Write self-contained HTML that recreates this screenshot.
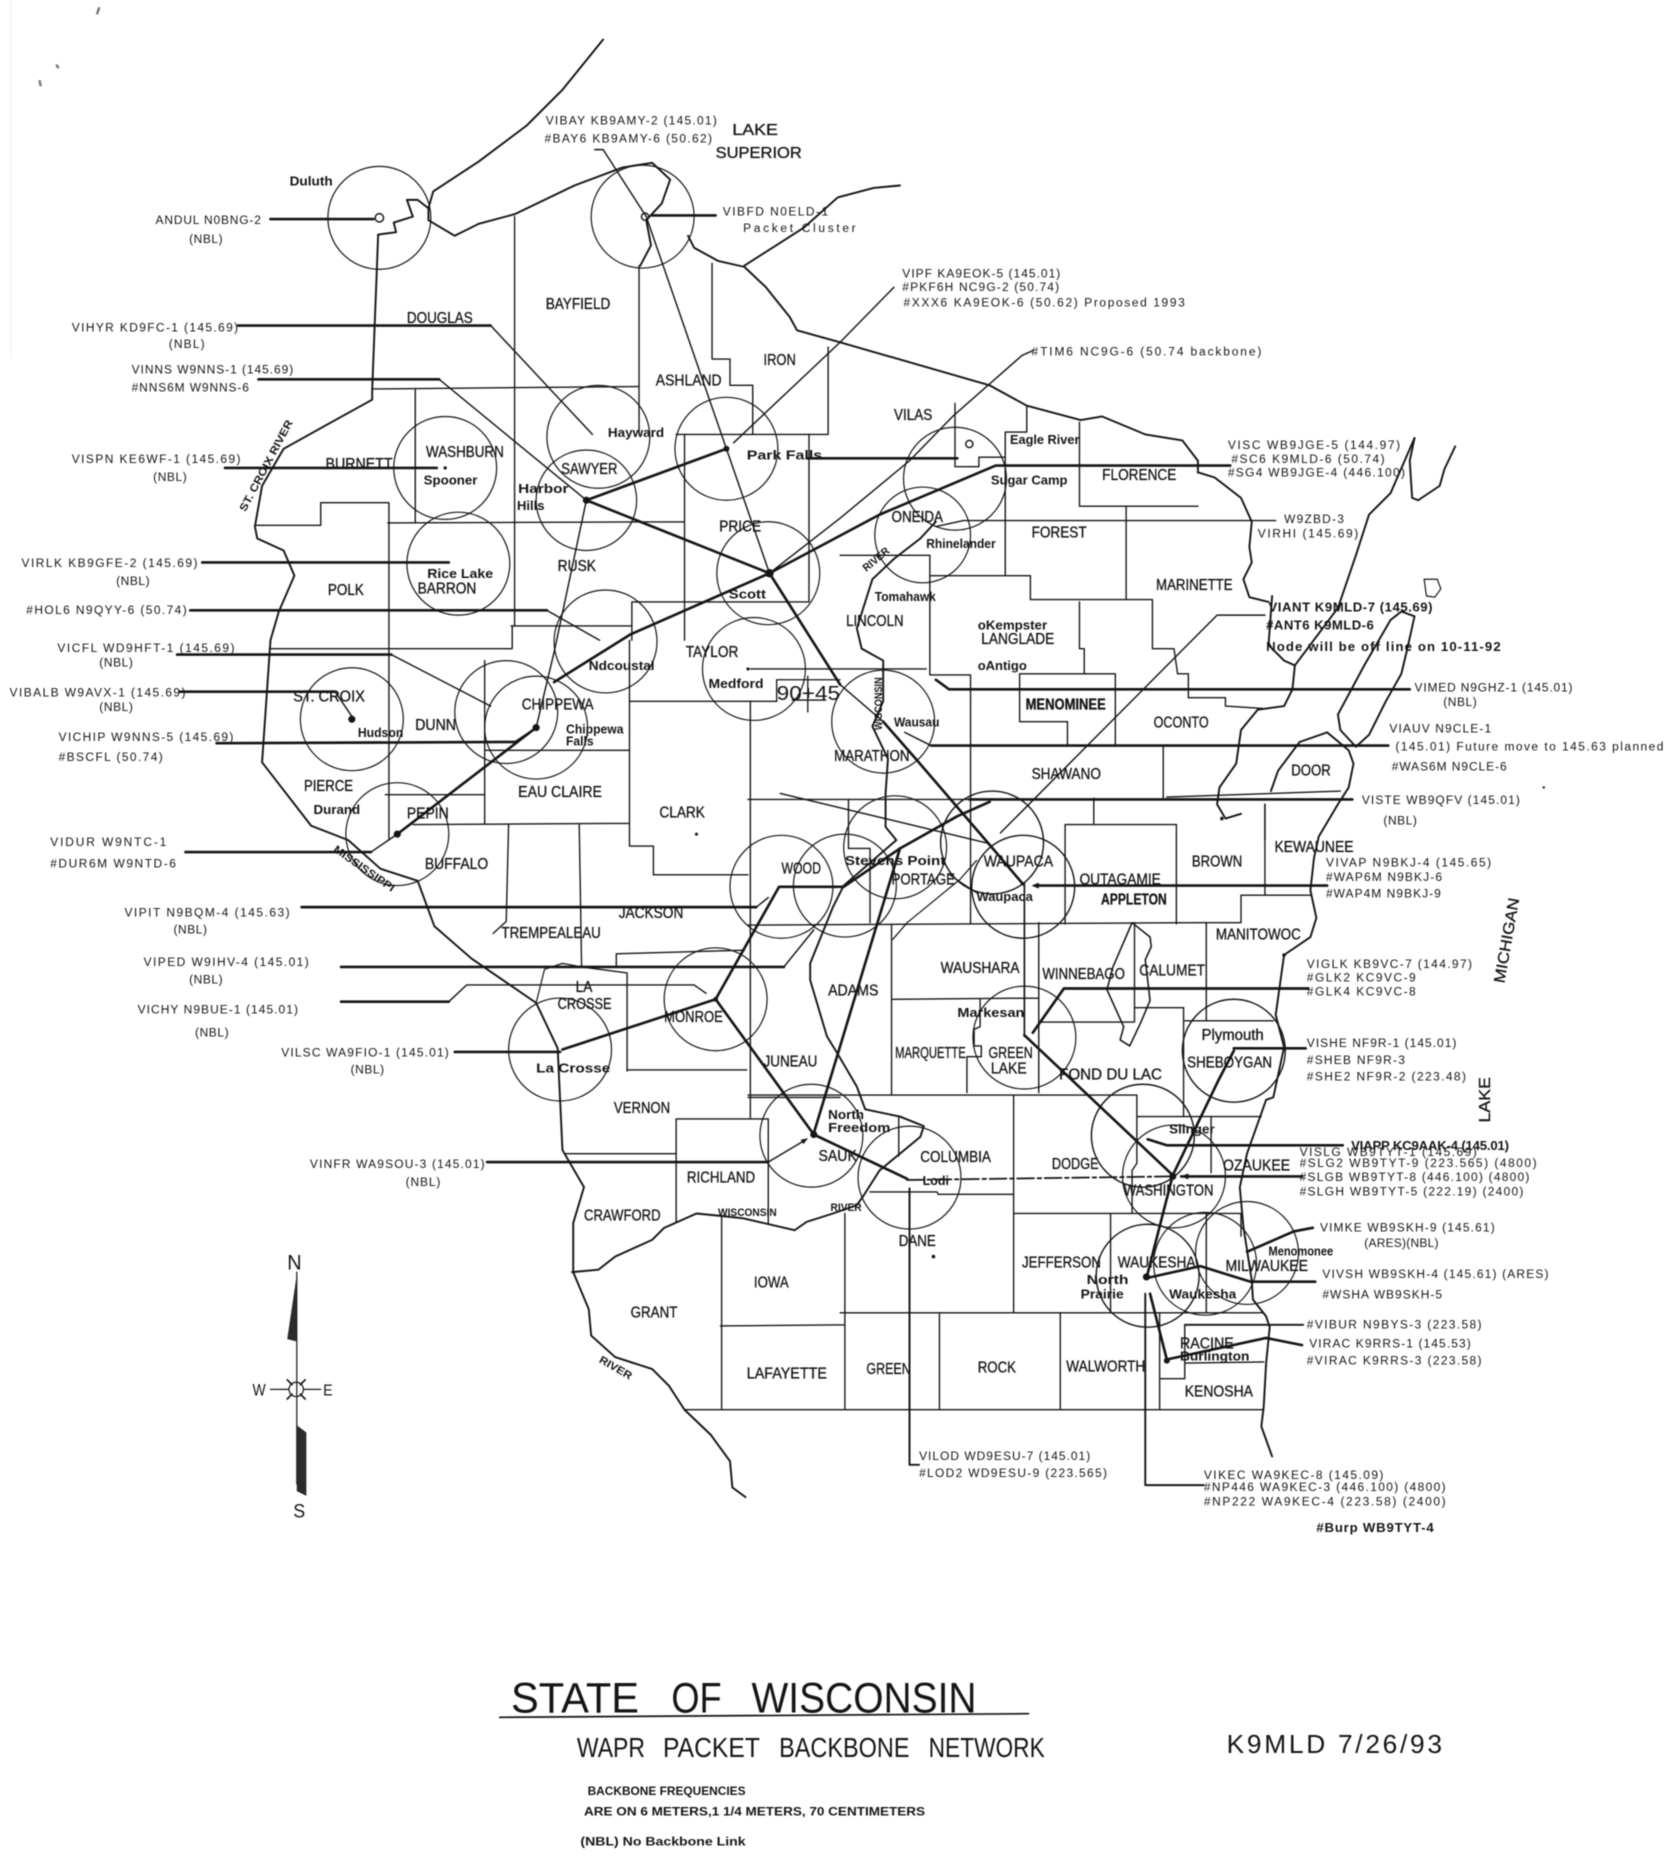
<!DOCTYPE html>
<html><head><meta charset="utf-8"><title>State of Wisconsin WAPR Packet Backbone Network</title>
<style>
html,body{margin:0;padding:0;background:#fff;width:1679px;height:1876px;overflow:hidden}
svg{display:block;filter:blur(.45px)}
text{font-family:"Liberation Sans",sans-serif;fill:#151515}
.s text{font-size:10px}
.c text{font-size:13px;stroke:#151515;stroke-width:.25}
.w text{font-size:10.5px;font-weight:bold}
.n{fill:none;stroke:#151515;stroke-linecap:round;stroke-linejoin:round}
</style></head><body>
<svg xmlns="http://www.w3.org/2000/svg" width="1679" height="1876" viewBox="0 0 1403 1567.6">
<rect width="1403" height="1567.6" fill="#fff"/>
<path d="M9 0V300" stroke="#f1f1f1" stroke-width="1" fill="none"/>
<path d="M83 6l-2 6M33 67l1 5M47 54l2 3" stroke="#777" stroke-width="2" fill="none"/>

<!-- shorelines / rivers -->
<g class="n" stroke-width="1.6">
<path d="M504 33L470 75L440 105L400 135L362 160L358 174"/>
<path d="M316 196L331 194L329 186L345 181L340 167L349 167L358 174L358 184L380 197L400 187L430 179L480 155L520 140L545 136L560 150L553 170L540 184L544 205L535 222"/>
<path d="M575 197L580 207L600 218L622 223L640 240L660 265L666 276L702 286L827 322L858 339L903 351L921 348L957 363L988 368L1001 385L1001 395"/>
<path d="M622 222L672 190L700 165L730 157L752 155"/>
<path d="M1002 395L1015 399L1037 416L1046 436L1044 457L1046 470L1039 484L1044 499L1060 503"/>
<path d="M1063 498L1060 539L1073 552L1082 556L1080 576L1073 590L1051 593L1037 610L1033 638L1019 658L1017 672L1024 684L1037 680"/>
<path d="M1182 366L1162 412L1144 430L1133 464L1118 508L1082 556"/>
<path d="M1182 366L1178 385L1180 416L1185 418L1203 406L1207 392L1216 373"/>
<path d="M1190 484L1201 484L1204 492L1199 499L1192 498Z" stroke-width="1"/>
<path d="M1171 511L1182 515L1176 542L1171 563L1158 586L1144 614L1133 624L1120 610L1118 597L1140 556L1162 518Z"/>
<path d="M1109 612L1127 627L1131 638L1127 658L1118 672L1102 699L1098 717L1095 744L1100 767L1095 783L1073 798L1066 848L1073 875L1064 917L1058 919L1042 964L1036 992L1039 1025L1046 1070L1047 1086L1058 1100L1061 1109L1058 1139L1056 1175L1054 1192L1063 1217"/>
<path d="M1109 612L1086 620L1068 644L1062 661"/>
<path d="M316 196L311 326L311 334L273 355L237 375L219 406L213 440L215 450L237 460L246 481L233 511L226 535L219 637L260 690L291 702L318 726L349 736L363 774L394 801L448 838L466 876L470 961L488 992L479 1022L479 1063L492 1094L494 1116L514 1134L545 1144L559 1158L572 1178L594 1199L610 1221L612 1243L623 1251"/>
<path d="M478 1063L500 1061L514 1050L545 1036L555 1026L582 1014L602 1016L621 1018L664 1028L674 1021L696 1014L716 1007L721 1000L735 978L769 950L772 941L752 933L723 927L716 908L699 879L691 866L677 819L677 805L696 758L705 740L749 702L740 691L740 663L742 634L729 607L738 586L738 552L720 542L716 525L729 484L747 467L769 450L782 436"/>
<path d="M448 838L455 810L470 805L486 808" stroke-width="1"/>
<path d="M946 771L961 783L962 791L957 802L961 836L953 855L944 874L936 869L939 858L925 827L930 808Z" stroke-width="1.3"/>
<path d="M746 785L758 771L802 735L816 719M792 730L816 746" stroke-width="1"/>
</g>

<!-- county lines -->
<g class="n" stroke-width="1.15">
<path d="M430 181V523M311 325L534 323M347 325V437M534 222V363M595 220V300H610V322H629V363M692 290V363M565 363H692"/>
<path d="M572 363V535M324 437L572 436M213 439H268V420H325V702M676 363V503M528 503H676M528 503V535M427 523H528"/>
<path d="M226 542H428V523M526 535V707H546V731H625M526 586H649M627 586V934M405 552V688M405 627H526M322 664H405M345 689L526 688"/>
<path d="M425 689L423 770L412 780M484 689L486 808L524 813V895M515 808V797L622 794M524 894H624M625 917H702M472 964H565"/>
<path d="M565 935H642V1022M565 935V1021M603 1016V1177M602 1108L706 1107M706 1014V1177M572 1178H1056M702 1097H1055"/>
<path d="M785 1097V1177M886 1097V1177M969 1097V1177M969 1152H990V1107M990 1139L1056 1138M847 915V1097M625 915H950V972L946 978V1014M950 933H1054M847 1014H1037V1033M928 1014V1097M1008 1014V1097M1012 933V980M989 842V933"/>
<path d="M745 773V915M746 835L868 834M868 771V913M819 835V858L814 860V874H820V883H808V913M625 773L1003 771H1037V748H1095M811 585V772M983 689V772M1057 672V748M1008 772V853M868 854H948V771M948 842H989M990 853H1064"/>
<path d="M902 353V423H1001M941 423V501M858 339V361H840V481M798 337V390H818V382H840M777 464V564H811V585M702 464H777M777 481H861V501H963V542H981L984 563H993V583H1024V590L1055 592"/>
<path d="M902 503V542H906V563M852 563H932M852 563V603H892V622M932 563V622M972 624V668M914 667V688M890 689H983M890 689V772M975 666L1120 661M1057 672V702M625 668H914M702 559H774M627 559H702"/>
<path d="M709 668V709H727V771M727 996H783L784 998H847M751 933V966"/>
<path d="M649 568H702M649 568V586M675 565V595M662 585H690" stroke-width="1.1"/>
</g>

<!-- coverage circles -->
<g class="n" stroke-width="1">
<circle cx="317" cy="182" r="43"/><circle cx="537" cy="181" r="43"/><circle cx="500" cy="365" r="43"/><circle cx="490" cy="418" r="42"/>
<circle cx="372" cy="391" r="43"/><circle cx="383" cy="471" r="43"/><circle cx="607" cy="375" r="43"/><circle cx="642" cy="479" r="43"/>
<circle cx="506" cy="536" r="43"/><circle cx="630" cy="559" r="43"/><circle cx="423" cy="595" r="43"/><circle cx="448" cy="608" r="43"/>
<circle cx="294" cy="601" r="43"/><circle cx="332" cy="697" r="43"/><circle cx="653" cy="741" r="43"/><circle cx="706" cy="740" r="43"/>
<circle cx="748" cy="708" r="43"/><circle cx="829" cy="704" r="43" stroke-width="1.2"/><circle cx="855" cy="741" r="43" stroke-width="1.2"/>
<circle cx="738" cy="603" r="43"/><circle cx="771" cy="447" r="40"/><circle cx="798" cy="400" r="43"/>
<circle cx="598" cy="835" r="43"/><circle cx="468" cy="877" r="43"/><circle cx="678" cy="949" r="43"/><circle cx="760" cy="984" r="43"/>
<circle cx="1031" cy="878" r="43" stroke-width="1.2"/><circle cx="856" cy="867" r="43"/><circle cx="955" cy="949" r="43" stroke-width="1.2"/><circle cx="981" cy="983" r="43"/>
<circle cx="959" cy="1066" r="43" stroke-width="1.2"/><circle cx="1007" cy="1056" r="43"/><circle cx="1042" cy="1047" r="43"/>
</g>

<!-- backbone links -->
<g class="n" stroke-width="1.2">
<path d="M497 125H504L540 181L607 375L643 479L702 572L738 603"/>
<path d="M747 240L702 286L613 370"/>
<path d="M863 293L854 297L796 348L760 385L702 433L643 479"/>
<path d="M490 418L463 545L448 608"/>
<path d="M1057 514H1017L836 696"/>
<path d="M410 272L495 363M367 317L490 418M327 547L410 590M280 578L295 600M457 510L501 535"/>
<path d="M655 808L680 777M375 837L390 823H580L590 830M642 971L674 952M310 712L332 697M632 758L642 750M430 620L448 608"/>
<path d="M782 440L805 435H1066M756 612L778 623M652 663L827 705"/>
<path d="M856 738V866" stroke-width="1.4"/>
</g>
<g class="n" stroke-width="2.2">
<path d="M607 375L490 418L643 479"/>
<path d="M643 479L735 430L832 389H1028"/>
<path d="M643 479L527 530L463 570"/>
<path d="M448 608L332 697"/>
<path d="M643 479L702 572"/>
<path d="M738 603L766 635L827 706L855 739"/>
<path d="M470 877L598 835L651 741H705L752 709L800 682L827 670"/>
<path d="M752 709L680 947"/>
<path d="M598 835L680 948L758 985"/>
<path d="M856 865L980 982L1018 903L1031 878"/>
<path d="M980 982L958 1068L1003 1058L1045 1071H1099"/>
<path d="M961 1081L975 1136L1058 1118L1088 1124"/>
<path d="M1042 1046L1081 1029L1097 1026"/>
<path d="M863 863L889 826H1093M1031 876H1091M959 952L975 957H1122M987 983H1088M865 740H1109"/>
<path d="M226 183H312M545 180H598M199 272H410M216 317H367M188 391H365M169 470H375M159 510H457M148 547H327M150 578H280M181 621L430 620M155 712H310M252 758H632M285 808H655M285 837H375M380 879H468M407 971H642"/>
<path d="M778 623H1160M782 568L793 576H1178M810 668H1130M675 383H800"/>
<path d="M957 1081V1241H1006M990 1107H1089M760 993V1224H768" stroke-width="1.6"/>
<path d="M758 986L980 983" stroke-dasharray="14 3 3 3" stroke-width="1.5"/>
</g>
<g fill="#151515">
<circle cx="490" cy="418" r="3"/><circle cx="643" cy="479" r="3.5"/><circle cx="607" cy="375" r="2.5"/><circle cx="448" cy="608" r="3"/><circle cx="332" cy="697" r="3"/>
<circle cx="294" cy="601" r="3"/><circle cx="680" cy="948" r="3"/><circle cx="598" cy="835" r="2"/><circle cx="980" cy="983" r="3"/><circle cx="958" cy="1067" r="3"/><circle cx="975" cy="1137" r="2.5"/>
<circle cx="582" cy="697" r="1.3"/><circle cx="780" cy="1050" r="1.5"/><circle cx="1073" cy="798" r="1.5"/><circle cx="1290" cy="658" r="1"/><circle cx="1021" cy="684" r="1.5"/><circle cx="625" cy="559" r="1.3"/><circle cx="372" cy="391" r="1.4"/>
<path d="M862 740l6-2.5v5ZM675 951l-6 1.5 2.5 3.5ZM987 983l6-2.5v5Z"/>
</g>
<g class="n" stroke-width="1.2"><circle cx="317" cy="182" r="3.5"/><circle cx="539" cy="181" r="3"/><circle cx="810" cy="371" r="3"/></g>

<!-- compass -->
<g class="n" stroke-width="1"><path d="M248 1063V1240M226 1161H241M254 1161H268"/><circle cx="247.5" cy="1161" r="6"/><path d="M240 1153l4 4M255 1153l-4 4M240 1169l4-4M255 1169l-4-4" stroke-width="1.4"/></g>
<path d="M248 1065L240 1119L248 1121Z M248 1191L256 1197V1250L248 1246Z" fill="#2b2b2b"/>
<text x="240" y="1061" font-size="18" textLength="12" lengthAdjust="spacingAndGlyphs">N</text>
<text x="245" y="1268" font-size="16" textLength="10" lengthAdjust="spacingAndGlyphs">S</text>
<text x="211" y="1166" font-size="14" textLength="11" lengthAdjust="spacingAndGlyphs">W</text>
<text x="270" y="1166" font-size="13" textLength="8" lengthAdjust="spacingAndGlyphs">E</text>

<!-- station labels -->
<g class="s">
<text x="456" y="104" textLength="143">VIBAY KB9AMY-2 (145.01)</text>
<text x="455" y="119" textLength="140">#BAY6 KB9AMY-6 (50.62)</text>
<text x="130" y="187" textLength="88">ANDUL N0BNG-2</text>
<text x="158" y="203" textLength="28">(NBL)</text>
<text x="604" y="180" textLength="88">VIBFD N0ELD-1</text>
<text x="621" y="194" textLength="94">Packet Cluster</text>
<text x="754" y="232" textLength="132">VIPF KA9EOK-5 (145.01)</text>
<text x="754" y="243" textLength="131">#PKF6H NC9G-2 (50.74)</text>
<text x="755" y="256" textLength="235">#XXX6 KA9EOK-6 (50.62) Proposed 1993</text>
<text x="862" y="297" textLength="192">#TIM6 NC9G-6  (50.74 backbone)</text>
<text x="60" y="277" textLength="139">VIHYR KD9FC-1 (145.69)</text>
<text x="141" y="291" textLength="30">(NBL)</text>
<text x="110" y="312" textLength="135">VINNS W9NNS-1 (145.69)</text>
<text x="110" y="327" textLength="98">#NNS6M W9NNS-6</text>
<text x="60" y="387" textLength="141">VISPN KE6WF-1 (145.69)</text>
<text x="128" y="402" textLength="28">(NBL)</text>
<text x="18" y="474" textLength="147">VIRLK KB9GFE-2 (145.69)</text>
<text x="97" y="489" textLength="28">(NBL)</text>
<text x="22" y="513" textLength="134">#HOL6 N9QYY-6 (50.74)</text>
<text x="48" y="545" textLength="148">VICFL WD9HFT-1 (145.69)</text>
<text x="83" y="557" textLength="28">(NBL)</text>
<text x="8" y="582" textLength="147">VIBALB W9AVX-1 (145.69)</text>
<text x="83" y="594" textLength="28">(NBL)</text>
<text x="49" y="619" textLength="146">VICHIP W9NNS-5 (145.69)</text>
<text x="49" y="636" textLength="87">#BSCFL (50.74)</text>
<text x="42" y="707" textLength="97">VIDUR W9NTC-1</text>
<text x="42" y="725" textLength="105">#DUR6M W9NTD-6</text>
<text x="104" y="766" textLength="138">VIPIT N9BQM-4 (145.63)</text>
<text x="145" y="780" textLength="28">(NBL)</text>
<text x="120" y="807" textLength="138">VIPED W9IHV-4 (145.01)</text>
<text x="158" y="822" textLength="28">(NBL)</text>
<text x="115" y="847" textLength="134">VICHY N9BUE-1 (145.01)</text>
<text x="163" y="866" textLength="28">(NBL)</text>
<text x="235" y="883" textLength="140">VILSC WA9FIO-1 (145.01)</text>
<text x="293" y="897" textLength="28">(NBL)</text>
<text x="259" y="976" textLength="146">VINFR WA9SOU-3 (145.01)</text>
<text x="339" y="991" textLength="29">(NBL)</text>
<text x="1026" y="375" textLength="144">VISC WB9JGE-5 (144.97)</text>
<text x="1029" y="387" textLength="128">#SC6 K9MLD-6 (50.74)</text>
<text x="1026" y="398" textLength="148">#SG4 WB9JGE-4 (446.100)</text>
<text x="1073" y="437" textLength="50">W9ZBD-3</text>
<text x="1051" y="449" textLength="84">VIRHI (145.69)</text>
<text x="1182" y="578" textLength="132">VIMED N9GHZ-1 (145.01)</text>
<text x="1206" y="590" textLength="28">(NBL)</text>
<text x="1161" y="612" textLength="85">VIAUV N9CLE-1</text>
<text x="1166" y="627" textLength="224">(145.01) Future move to 145.63 planned</text>
<text x="1163" y="644" textLength="96">#WAS6M N9CLE-6</text>
<text x="1138" y="672" textLength="132">VISTE WB9QFV (145.01)</text>
<text x="1156" y="689" textLength="28">(NBL)</text>
<text x="1108" y="724" textLength="138">VIVAP N9BKJ-4 (145.65)</text>
<text x="1108" y="736" textLength="97">#WAP6M N9BKJ-6</text>
<text x="1108" y="750" textLength="96">#WAP4M N9BKJ-9</text>
<text x="1092" y="809" textLength="138">VIGLK KB9VC-7 (144.97)</text>
<text x="1092" y="820" textLength="91">#GLK2 KC9VC-9</text>
<text x="1092" y="832" textLength="91">#GLK4 KC9VC-8</text>
<text x="1092" y="875" textLength="125">VISHE NF9R-1 (145.01)</text>
<text x="1092" y="889" textLength="82">#SHEB NF9R-3</text>
<text x="1092" y="903" textLength="133">#SHE2 NF9R-2 (223.48)</text>
<text x="1086" y="966" textLength="148">VISLG WB9TYT-1 (145.69)</text>
<text x="1086" y="975" textLength="198">#SLG2 WB9TYT-9 (223.565) (4800)</text>
<text x="1086" y="987" textLength="192">#SLGB WB9TYT-8 (446.100) (4800)</text>
<text x="1086" y="999" textLength="187">#SLGH WB9TYT-5 (222.19) (2400)</text>
<text x="1103" y="1029" textLength="146">VIMKE WB9SKH-9 (145.61)</text>
<text x="1140" y="1042" textLength="62">(ARES)(NBL)</text>
<text x="1105" y="1068" textLength="189">VIVSH WB9SKH-4 (145.61) (ARES)</text>
<text x="1105" y="1085" textLength="100">#WSHA WB9SKH-5</text>
<text x="1092" y="1110" textLength="146">#VIBUR N9BYS-3 (223.58)</text>
<text x="1094" y="1126" textLength="135">VIRAC K9RRS-1 (145.53)</text>
<text x="1092" y="1140" textLength="146">#VIRAC K9RRS-3 (223.58)</text>
<text x="768" y="1220" textLength="143">VILOD WD9ESU-7 (145.01)</text>
<text x="768" y="1234" textLength="157">#LOD2 WD9ESU-9 (223.565)</text>
<text x="1006" y="1236" textLength="150">VIKEC WA9KEC-8 (145.09)</text>
<text x="1006" y="1246" textLength="202">#NP446 WA9KEC-3 (446.100) (4800)</text>
<text x="1006" y="1258" textLength="202">#NP222 WA9KEC-4 (223.58) (2400)</text>
</g>
<g font-weight="bold" font-size="11">
<text x="1060" y="511" textLength="137">VIANT K9MLD-7 (145.69)</text>
<text x="1058" y="526" textLength="90">#ANT6 K9MLD-6</text>
<text x="1058" y="544" textLength="196">Node will be off line on 10-11-92</text>
<text x="1129" y="961" textLength="132">VIAPP KC9AAK-4 (145.01)</text>
<text x="1100" y="1280" textLength="98">#Burp WB9TYT-4</text>
</g>

<!-- counties -->
<g class="c">
<text x="612" y="113" font-size="15" textLength="38" lengthAdjust="spacingAndGlyphs">LAKE</text><text x="598" y="132" font-size="15" textLength="72" lengthAdjust="spacingAndGlyphs">SUPERIOR</text>
<text x="456" y="258" textLength="54" lengthAdjust="spacingAndGlyphs">BAYFIELD</text><text x="340" y="270" textLength="55" lengthAdjust="spacingAndGlyphs">DOUGLAS</text><text x="548" y="322" textLength="55" lengthAdjust="spacingAndGlyphs">ASHLAND</text><text x="638" y="305" textLength="27" lengthAdjust="spacingAndGlyphs">IRON</text><text x="747" y="351" textLength="32" lengthAdjust="spacingAndGlyphs">VILAS</text>
<text x="272" y="392" textLength="56" lengthAdjust="spacingAndGlyphs">BURNETT</text><text x="356" y="382" textLength="65" lengthAdjust="spacingAndGlyphs">WASHBURN</text><text x="469" y="396" textLength="47" lengthAdjust="spacingAndGlyphs">SAWYER</text><text x="601" y="444" textLength="35" lengthAdjust="spacingAndGlyphs">PRICE</text><text x="745" y="436" textLength="43" lengthAdjust="spacingAndGlyphs">ONEIDA</text><text x="862" y="449" textLength="46" lengthAdjust="spacingAndGlyphs">FOREST</text><text x="921" y="401" textLength="62" lengthAdjust="spacingAndGlyphs">FLORENCE</text>
<text x="274" y="497" textLength="30" lengthAdjust="spacingAndGlyphs">POLK</text><text x="349" y="496" textLength="49" lengthAdjust="spacingAndGlyphs">BARRON</text><text x="466" y="477" textLength="32" lengthAdjust="spacingAndGlyphs">RUSK</text><text x="707" y="523" textLength="48" lengthAdjust="spacingAndGlyphs">LINCOLN</text><text x="573" y="549" textLength="44" lengthAdjust="spacingAndGlyphs">TAYLOR</text><text x="820" y="538" textLength="61" lengthAdjust="spacingAndGlyphs">LANGLADE</text><text x="966" y="493" textLength="64" lengthAdjust="spacingAndGlyphs">MARINETTE</text>
<text x="245" y="586" textLength="60" lengthAdjust="spacingAndGlyphs">ST. CROIX</text><text x="347" y="610" textLength="34" lengthAdjust="spacingAndGlyphs">DUNN</text><text x="436" y="593" textLength="60" lengthAdjust="spacingAndGlyphs">CHIPPEWA</text><text x="433" y="666" textLength="70" lengthAdjust="spacingAndGlyphs">EAU CLAIRE</text><text x="254" y="661" textLength="41" lengthAdjust="spacingAndGlyphs">PIERCE</text><text x="340" y="684" textLength="35" lengthAdjust="spacingAndGlyphs">PEPIN</text><text x="355" y="726" textLength="53" lengthAdjust="spacingAndGlyphs">BUFFALO</text><text x="551" y="683" textLength="38" lengthAdjust="spacingAndGlyphs">CLARK</text><text x="653" y="730" textLength="33" lengthAdjust="spacingAndGlyphs">WOOD</text>
<text x="697" y="636" textLength="63" lengthAdjust="spacingAndGlyphs">MARATHON</text><text x="857" y="593" textLength="67" lengthAdjust="spacingAndGlyphs" font-weight="bold">MENOMINEE</text><text x="964" y="608" textLength="46" lengthAdjust="spacingAndGlyphs">OCONTO</text><text x="862" y="651" textLength="58" lengthAdjust="spacingAndGlyphs">SHAWANO</text><text x="1079" y="648" textLength="33" lengthAdjust="spacingAndGlyphs">DOOR</text><text x="1065" y="712" textLength="66" lengthAdjust="spacingAndGlyphs">KEWAUNEE</text><text x="996" y="724" textLength="42" lengthAdjust="spacingAndGlyphs">BROWN</text><text x="902" y="739" textLength="68" lengthAdjust="spacingAndGlyphs">OUTAGAMIE</text><text x="920" y="756" textLength="55" lengthAdjust="spacingAndGlyphs" font-size="11" font-weight="bold">APPLETON</text>
<text x="822" y="724" textLength="58" lengthAdjust="spacingAndGlyphs">WAUPACA</text><text x="745" y="739" textLength="53" lengthAdjust="spacingAndGlyphs">PORTAGE</text><text x="517" y="767" textLength="54" lengthAdjust="spacingAndGlyphs">JACKSON</text><text x="419" y="784" textLength="83" lengthAdjust="spacingAndGlyphs">TREMPEALEAU</text><text x="481" y="829" textLength="14" lengthAdjust="spacingAndGlyphs">LA</text><text x="466" y="843" textLength="45" lengthAdjust="spacingAndGlyphs">CROSSE</text><text x="555" y="854" textLength="49" lengthAdjust="spacingAndGlyphs">MONROE</text><text x="638" y="891" textLength="45" lengthAdjust="spacingAndGlyphs">JUNEAU</text><text x="692" y="832" textLength="42" lengthAdjust="spacingAndGlyphs">ADAMS</text>
<text x="786" y="813" textLength="66" lengthAdjust="spacingAndGlyphs">WAUSHARA</text><text x="871" y="818" textLength="69" lengthAdjust="spacingAndGlyphs">WINNEBAGO</text><text x="952" y="815" textLength="55" lengthAdjust="spacingAndGlyphs">CALUMET</text><text x="1016" y="785" textLength="71" lengthAdjust="spacingAndGlyphs">MANITOWOC</text><text x="748" y="884" textLength="59" lengthAdjust="spacingAndGlyphs">MARQUETTE</text><text x="826" y="884" textLength="37" lengthAdjust="spacingAndGlyphs">GREEN</text><text x="828" y="897" textLength="30" lengthAdjust="spacingAndGlyphs">LAKE</text><text x="885" y="902" textLength="86" lengthAdjust="spacingAndGlyphs">FOND DU LAC</text><text x="992" y="892" textLength="71" lengthAdjust="spacingAndGlyphs">SHEBOYGAN</text><text x="1004" y="869" textLength="52" lengthAdjust="spacingAndGlyphs" font-size="11">Plymouth</text>
<text x="513" y="930" textLength="47" lengthAdjust="spacingAndGlyphs">VERNON</text><text x="684" y="970" textLength="32" lengthAdjust="spacingAndGlyphs">SAUK</text><text x="769" y="971" textLength="59" lengthAdjust="spacingAndGlyphs">COLUMBIA</text><text x="879" y="977" textLength="39" lengthAdjust="spacingAndGlyphs">DODGE</text><text x="939" y="999" textLength="75" lengthAdjust="spacingAndGlyphs">WASHINGTON</text><text x="1022" y="978" textLength="56" lengthAdjust="spacingAndGlyphs">OZAUKEE</text><text x="574" y="988" textLength="57" lengthAdjust="spacingAndGlyphs">RICHLAND</text><text x="488" y="1020" textLength="64" lengthAdjust="spacingAndGlyphs">CRAWFORD</text><text x="751" y="1041" textLength="31" lengthAdjust="spacingAndGlyphs">DANE</text>
<text x="854" y="1059" textLength="66" lengthAdjust="spacingAndGlyphs">JEFFERSON</text><text x="934" y="1059" textLength="65" lengthAdjust="spacingAndGlyphs">WAUKESHA</text><text x="1024" y="1062" textLength="69" lengthAdjust="spacingAndGlyphs">MILWAUKEE</text><text x="630" y="1076" textLength="29" lengthAdjust="spacingAndGlyphs">IOWA</text><text x="527" y="1101" textLength="39" lengthAdjust="spacingAndGlyphs">GRANT</text><text x="624" y="1152" textLength="67" lengthAdjust="spacingAndGlyphs">LAFAYETTE</text><text x="724" y="1148" textLength="37" lengthAdjust="spacingAndGlyphs">GREEN</text><text x="817" y="1147" textLength="32" lengthAdjust="spacingAndGlyphs">ROCK</text><text x="891" y="1146" textLength="66" lengthAdjust="spacingAndGlyphs">WALWORTH</text><text x="986" y="1127" textLength="45" lengthAdjust="spacingAndGlyphs">RACINE</text><text x="990" y="1167" textLength="57" lengthAdjust="spacingAndGlyphs">KENOSHA</text>
<text transform="translate(1245 938) rotate(-90)" font-size="15" textLength="38" lengthAdjust="spacingAndGlyphs">LAKE</text>
<text transform="translate(1257 822) rotate(-80)" font-size="15" textLength="72" lengthAdjust="spacingAndGlyphs">MICHIGAN</text>
</g>

<!-- towns -->
<g class="w">
<text x="242" y="155" textLength="36" lengthAdjust="spacingAndGlyphs">Duluth</text><text x="508" y="365" textLength="47" lengthAdjust="spacingAndGlyphs">Hayward</text><text x="624" y="384" textLength="63" lengthAdjust="spacingAndGlyphs">Park Falls</text><text x="354" y="405" textLength="45" lengthAdjust="spacingAndGlyphs">Spooner</text><text x="357" y="483" textLength="55" lengthAdjust="spacingAndGlyphs">Rice Lake</text><text x="433" y="412" textLength="42" lengthAdjust="spacingAndGlyphs">Harbor</text><text x="432" y="426" textLength="23" lengthAdjust="spacingAndGlyphs">Hills</text><text x="609" y="500" textLength="31" lengthAdjust="spacingAndGlyphs">Scott</text>
<text x="844" y="371" textLength="58" lengthAdjust="spacingAndGlyphs">Eagle River</text><text x="828" y="405" textLength="64" lengthAdjust="spacingAndGlyphs">Sugar Camp</text><text x="774" y="458" textLength="58" lengthAdjust="spacingAndGlyphs">Rhinelander</text><text x="731" y="502" textLength="51" lengthAdjust="spacingAndGlyphs">Tomahawk</text><text x="817" y="526" textLength="58" lengthAdjust="spacingAndGlyphs">oKempster</text><text x="817" y="560" textLength="41" lengthAdjust="spacingAndGlyphs">oAntigo</text><text x="747" y="607" textLength="38" lengthAdjust="spacingAndGlyphs">Wausau</text><text x="592" y="575" textLength="46" lengthAdjust="spacingAndGlyphs">Medford</text>
<text x="492" y="560" textLength="55" lengthAdjust="spacingAndGlyphs">Ndcoustal</text><text x="473" y="613" textLength="48" lengthAdjust="spacingAndGlyphs">Chippewa</text><text x="473" y="623" textLength="23" lengthAdjust="spacingAndGlyphs">Falls</text><text x="299" y="616" textLength="38" lengthAdjust="spacingAndGlyphs">Hudson</text><text x="262" y="680" textLength="39" lengthAdjust="spacingAndGlyphs">Durand</text><text x="448" y="896" textLength="62" lengthAdjust="spacingAndGlyphs">La Crosse</text><text x="706" y="723" textLength="84" lengthAdjust="spacingAndGlyphs">Stevens Point</text><text x="816" y="753" textLength="47" lengthAdjust="spacingAndGlyphs">Waupaca</text><text x="800" y="850" textLength="56" lengthAdjust="spacingAndGlyphs">Markesan</text>
<text x="692" y="935" textLength="30" lengthAdjust="spacingAndGlyphs">North</text><text x="692" y="946" textLength="52" lengthAdjust="spacingAndGlyphs">Freedom</text><text x="771" y="990" textLength="22" lengthAdjust="spacingAndGlyphs">Lodi</text><text x="977" y="947" textLength="38" lengthAdjust="spacingAndGlyphs">Slinger</text><text x="1060" y="1049" textLength="54" lengthAdjust="spacingAndGlyphs">Menomonee</text><text x="908" y="1073" textLength="35" lengthAdjust="spacingAndGlyphs">North</text><text x="903" y="1085" textLength="36" lengthAdjust="spacingAndGlyphs">Prairie</text><text x="977" y="1085" textLength="56" lengthAdjust="spacingAndGlyphs">Waukesha</text><text x="986" y="1137" textLength="58" lengthAdjust="spacingAndGlyphs">Burlington</text>
</g>
<g font-size="9" font-weight="bold">
<text transform="translate(205 428) rotate(-62)" textLength="85" lengthAdjust="spacingAndGlyphs">ST. CROIX RIVER</text>
<text transform="translate(278 711) rotate(35)" textLength="60" lengthAdjust="spacingAndGlyphs">MISSISSIPPI</text>
<text x="600" y="1016" textLength="49" lengthAdjust="spacingAndGlyphs">WISCONSIN</text>
<text x="694" y="1012" textLength="26" lengthAdjust="spacingAndGlyphs">RIVER</text>
<text transform="translate(500 1138) rotate(30)" textLength="30" lengthAdjust="spacingAndGlyphs">RIVER</text>
<text transform="translate(724 478) rotate(-40)" textLength="26" lengthAdjust="spacingAndGlyphs">RIVER</text>
<text transform="translate(737 610) rotate(-90)" textLength="44" lengthAdjust="spacingAndGlyphs">WISCONSIN</text>
</g>
<text x="649" y="585" font-size="17" textLength="53" lengthAdjust="spacingAndGlyphs">90+45</text>

<!-- title -->
<path d="M417 1435L860 1432" stroke="#151515" stroke-width="1.4" fill="none"/>
<g style="fill:#333" font-size="36">
<text x="427" y="1431" textLength="107" lengthAdjust="spacingAndGlyphs" fill="#333">STATE</text>
<text x="561" y="1431" textLength="42" lengthAdjust="spacingAndGlyphs" fill="#333">OF</text>
<text x="628" y="1431" textLength="188" lengthAdjust="spacingAndGlyphs" fill="#333">WISCONSIN</text>
</g>
<g font-size="23">
<text x="482" y="1468" textLength="57" lengthAdjust="spacingAndGlyphs">WAPR</text>
<text x="554" y="1468" textLength="81" lengthAdjust="spacingAndGlyphs">PACKET</text>
<text x="651" y="1468" textLength="109" lengthAdjust="spacingAndGlyphs">BACKBONE</text>
<text x="776" y="1468" textLength="97" lengthAdjust="spacingAndGlyphs">NETWORK</text>
</g>
<text x="1025" y="1465" font-size="22" textLength="180">K9MLD 7/26/93</text>
<g font-size="10" font-weight="bold">
<text x="491" y="1500" textLength="132" lengthAdjust="spacingAndGlyphs">BACKBONE FREQUENCIES</text>
<text x="488" y="1517" textLength="285" lengthAdjust="spacingAndGlyphs">ARE ON 6 METERS,1 1/4 METERS, 70 CENTIMETERS</text>
<text x="485" y="1542" textLength="138" lengthAdjust="spacingAndGlyphs">(NBL) No Backbone Link</text>
</g>
</svg>
</body></html>
